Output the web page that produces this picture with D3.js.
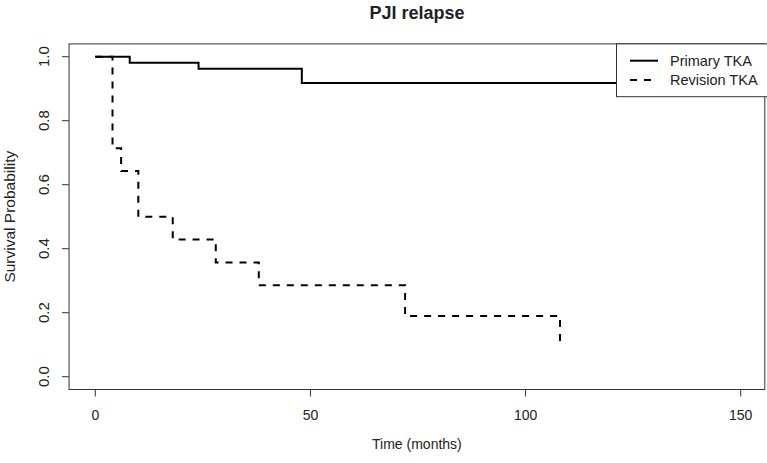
<!DOCTYPE html>
<html>
<head>
<meta charset="utf-8">
<script src="https://cdn.jsdelivr.net/npm/d3@7"></script>
<style>
  body { margin: 0; background: #fff; }
  svg text { font-family: "Liberation Sans", Arial, sans-serif; fill: #222; }
</style>
</head>
<body>
<svg id="chart" width="767" height="463"></svg>
<script>
// ---- data ----
const primaryTimes = [0, 8, 24, 48, 150];
const primarySurv  = [1.0, 0.981, 0.962, 0.918, 0.918];
const revisionTimes = [0, 4, 6, 10, 18, 28, 38, 72, 108];
const revisionSurv  = [1.0, 0.714, 0.643, 0.5, 0.429, 0.357, 0.286, 0.190, 0.095];
const xTicks = [0, 50, 100, 150];
const yTicks = [0.0, 0.2, 0.4, 0.6, 0.8, 1.0];
const seriesNames = ["Primary TKA", "Revision TKA"];
const titleText = "PJI relapse";
const xLabel = "Time (months)";
const yLabel = "Survival Probability";

const svg = d3.select("#chart");
const x = d3.scaleLinear().domain([0, 150]).range([95.3, 740.7]);
const y = d3.scaleLinear().domain([0, 1]).range([376.7, 56.7]);

// plot box (R style 4% extension)
const bx0 = x(-6.1), bx1 = x(155.6), by0 = y(1.04), by1 = y(-0.04);

const line = d3.line().x(d => x(d[0])).y(d => y(d[1])).curve(d3.curveStepAfter);

const pData = primaryTimes.map((t, i) => [t, primarySurv[i]]);
const rData = revisionTimes.map((t, i) => [t, revisionSurv[i]]);

svg.append("path").attr("d", line(pData)).attr("fill", "none")
  .attr("stroke", "#000").attr("stroke-width", 2);
svg.append("path").attr("d", line(rData)).attr("fill", "none")
  .attr("stroke", "#000").attr("stroke-width", 2).attr("stroke-dasharray", "7,7");

// box
svg.append("rect").attr("x", bx0).attr("y", by0).attr("width", bx1 - bx0).attr("height", by1 - by0)
  .attr("fill", "none").attr("stroke", "#333").attr("stroke-width", 1);

// x axis
const xAxis = svg.append("g");
xTicks.forEach(t => {
  xAxis.append("line").attr("x1", x(t)).attr("x2", x(t)).attr("y1", by1).attr("y2", by1 + 7)
    .attr("stroke", "#333");
  xAxis.append("text").attr("x", x(t)).attr("y", 420).attr("text-anchor", "middle")
    .attr("font-size", 14).text(d3.format("d")(t));
});
// y axis
const yAxis = svg.append("g");
yTicks.forEach(t => {
  yAxis.append("line").attr("x1", bx0 - 7).attr("x2", bx0).attr("y1", y(t)).attr("y2", y(t))
    .attr("stroke", "#333");
  yAxis.append("text").attr("transform", `translate(49,${y(t)}) rotate(-90)`)
    .attr("text-anchor", "middle").attr("font-size", 15).text(d3.format(".1f")(t));
});

// titles
svg.append("text").attr("x", (bx0 + bx1) / 2).attr("y", 19).attr("text-anchor", "middle")
  .attr("font-size", 18).attr("font-weight", "bold").text(titleText);
svg.append("text").attr("x", (bx0 + bx1) / 2).attr("y", 449).attr("text-anchor", "middle")
  .attr("font-size", 14).text(xLabel);
svg.append("text").attr("transform", `translate(15,${(by0 + by1) / 2}) rotate(-90)`)
  .attr("text-anchor", "middle").attr("font-size", 15.5).text(yLabel);

// legend
const lg = svg.append("g");
lg.append("rect").attr("x", 616.5).attr("y", by0).attr("width", 160).attr("height", 96.7 - by0)
  .attr("fill", "#fff").attr("stroke", "#333").attr("stroke-width", 1);
const rowsY = [60.7, 80];
const dashes = [null, "7,7"];
seriesNames.forEach((n, i) => {
  lg.append("line").attr("x1", 630).attr("x2", 658).attr("y1", rowsY[i]).attr("y2", rowsY[i])
    .attr("stroke", "#000").attr("stroke-width", 2).attr("stroke-dasharray", dashes[i]);
  lg.append("text").attr("x", 670).attr("y", rowsY[i] + 5).attr("font-size", 14.5).text(n);
});
</script>
</body>
</html>
